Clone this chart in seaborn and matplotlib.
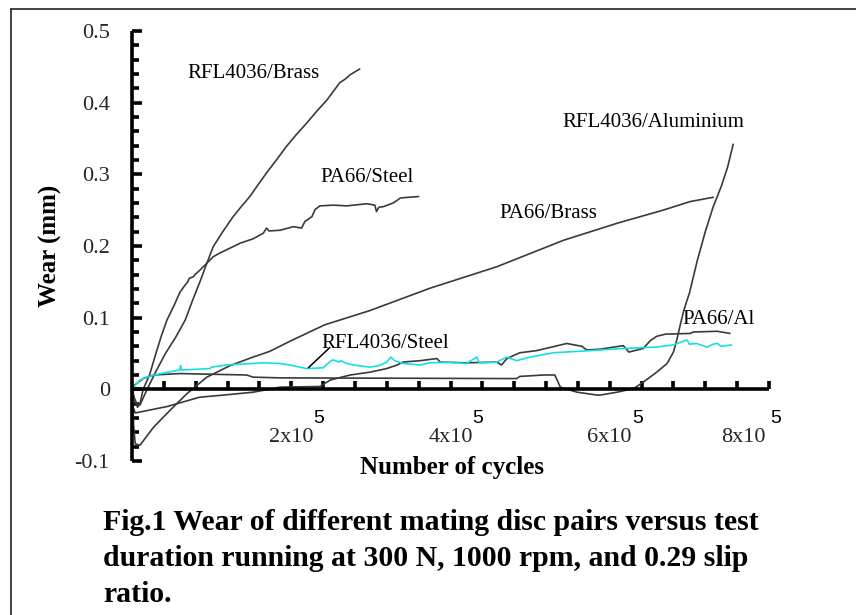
import matplotlib
matplotlib.use("Agg")
import matplotlib.pyplot as plt
import matplotlib.transforms as mtransforms
from matplotlib.lines import Line2D
from matplotlib.ticker import FixedLocator, MultipleLocator
import numpy as np
import pandas as pd
import seaborn as sns

# ---------------- data (x in units of 10^5 cycles, wear in mm) ----------------
rfl_brass_x = [0.0, 0.03, 0.06, 0.10, 0.14, 0.19, 0.30, 0.42, 0.55, 0.67, 0.76, 0.86,
               0.94, 1.02, 1.14, 1.27, 1.38, 1.48, 1.58, 1.69, 1.82, 1.94, 2.06, 2.19,
               2.32, 2.45, 2.53, 2.61, 2.68, 2.74, 2.80, 2.86]
rfl_brass_y = [0.0, -0.012, -0.02, -0.022, -0.012, 0.0, 0.025, 0.05, 0.073, 0.097, 0.124, 0.152,
               0.176, 0.199, 0.220, 0.241, 0.256, 0.269, 0.285, 0.302, 0.321, 0.339, 0.355, 0.371,
               0.388, 0.404, 0.416, 0.428, 0.433, 0.439, 0.443, 0.447]

pa66_steel_x = [0.0, 0.03, 0.07, 0.10, 0.14, 0.22, 0.30, 0.37, 0.44, 0.52, 0.60, 0.65, 0.70,
                0.72, 0.77, 0.79, 0.85, 0.94, 1.02, 1.10, 1.23, 1.36, 1.52, 1.65, 1.69, 1.72,
                1.86, 2.03, 2.13, 2.17, 2.26, 2.30, 2.36, 2.53, 2.70, 2.95, 3.05, 3.07, 3.10,
                3.16, 3.28, 3.32, 3.37, 3.48, 3.60]
pa66_steel_y = [0.0, -0.015, -0.025, -0.02, 0.0, 0.02, 0.05, 0.075, 0.097, 0.115, 0.135, 0.143, 0.150,
                0.155, 0.157, 0.160, 0.166, 0.176, 0.185, 0.190, 0.197, 0.204, 0.210, 0.218, 0.225, 0.221,
                0.222, 0.227, 0.225, 0.234, 0.241, 0.251, 0.256, 0.257, 0.256, 0.259, 0.257, 0.248, 0.254,
                0.255, 0.260, 0.263, 0.267, 0.268, 0.269]

pa66_brass_x = [0.0, 0.02, 0.04, 0.10, 0.27, 0.48, 0.69, 0.94, 1.23, 1.52, 1.73, 2.00, 2.42,
                2.99, 3.74, 4.58, 5.42, 6.10, 6.67, 7.01, 7.30]
pa66_brass_y = [0.0, -0.05, -0.076, -0.078, -0.053, -0.029, -0.006, 0.017, 0.033, 0.045, 0.053, 0.068, 0.090,
                0.110, 0.141, 0.171, 0.208, 0.232, 0.250, 0.262, 0.268]

pa66_al_x = [0.0, 0.04, 0.44, 0.85, 1.15, 1.52, 1.86, 2.36, 2.49, 2.74, 2.99, 3.20, 3.33, 3.40,
             3.62, 3.83, 3.87, 4.20, 4.58, 4.64, 4.71, 4.87, 5.08, 5.31, 5.46, 5.65, 5.71, 5.88,
             6.17, 6.24, 6.42, 6.51, 6.59, 6.70, 7.01, 7.05, 7.35, 7.51]
pa66_al_y = [-0.02, -0.033, -0.024, -0.011, -0.008, -0.004, 0.003, 0.004, 0.013, 0.020, 0.024, 0.029, 0.034, 0.038,
             0.040, 0.043, 0.038, 0.037, 0.038, 0.034, 0.043, 0.051, 0.054, 0.060, 0.064, 0.060, 0.055, 0.056,
             0.061, 0.052, 0.057, 0.068, 0.074, 0.077, 0.078, 0.080, 0.081, 0.078]

rfl_al_x = [0.0, 0.14, 0.27, 0.60, 1.44, 1.52, 1.86, 4.83, 4.87, 5.17, 5.31, 5.38, 5.50, 5.59,
            5.84, 5.88, 6.09, 6.30, 6.42, 6.59, 6.72, 6.80, 6.84, 6.89, 6.93, 6.97, 7.00, 7.10,
            7.20, 7.30, 7.40, 7.48, 7.55]
rfl_al_y = [0.003, 0.015, 0.020, 0.022, 0.020, 0.017, 0.016, 0.015, 0.018, 0.020, 0.020, 0.003, -0.001, -0.004,
            -0.008, -0.008, -0.004, 0.001, 0.010, 0.024, 0.036, 0.052, 0.068, 0.092, 0.110, 0.124, 0.134, 0.180,
            0.220, 0.255, 0.283, 0.310, 0.342]

rfl_steel_x = [0.0, 0.10, 0.27, 0.60, 0.61, 0.62, 0.98, 1.00, 1.19, 1.65, 1.86, 1.98, 2.19, 2.40,
               2.50, 2.53, 2.60, 2.62, 2.70, 2.78, 2.99, 3.10, 3.20, 3.25, 3.30, 3.41, 3.62, 3.74,
               4.00, 4.20, 4.33, 4.36, 4.58, 4.71, 4.83, 5.00, 5.29, 5.75, 6.17, 6.59, 6.80, 6.97,
               7.00, 7.09, 7.22, 7.30, 7.35, 7.40, 7.53]
rfl_steel_y = [0.0, 0.013, 0.020, 0.027, 0.033, 0.027, 0.029, 0.031, 0.034, 0.037, 0.036, 0.034, 0.029, 0.030,
               0.040, 0.041, 0.038, 0.040, 0.036, 0.034, 0.031, 0.033, 0.038, 0.045, 0.040, 0.036, 0.034, 0.037,
               0.038, 0.036, 0.045, 0.037, 0.038, 0.045, 0.040, 0.045, 0.051, 0.054, 0.057, 0.059, 0.062, 0.069,
               0.063, 0.064, 0.059, 0.063, 0.064, 0.060, 0.062]

series_names = ["RFL4036/Brass", "PA66/Steel", "PA66/Brass", "PA66/Al",
                "RFL4036/Aluminium", "RFL4036/Steel"]
x_tick_values = [2, 4, 6, 8]
x_tick_labels = ["2x10", "4x10", "6x10", "8x10"]
y_tick_values = [-0.1, 0.0, 0.1, 0.2, 0.3, 0.4, 0.5]
y_tick_labels = ["-0.1", "0", "0.1", "0.2", "0.3", "0.4", "0.5"]
x_label = "Number of cycles"
y_label = "Wear (mm)"
caption = ("Fig.1 Wear of different mating disc pairs versus test\n"
           "duration running at 300 N, 1000 rpm, and 0.29 slip\n"
           "ratio.")

# ---------------- figure ----------------
sns.set_theme(style="white")
plt.rcParams["font.family"] = ["Liberation Serif", "DejaVu Serif"]

W, H = 856, 615
fig = plt.figure(figsize=(W / 100, H / 100), dpi=100)
fig.patch.set_facecolor("white")
ax = fig.add_axes([132 / W, 1 - 461 / H, 637 / W, 430 / H])
ax.set_facecolor("white")

xs_all = [rfl_brass_x, pa66_steel_x, pa66_brass_x, pa66_al_x, rfl_al_x, rfl_steel_x]
ys_all = [rfl_brass_y, pa66_steel_y, pa66_brass_y, pa66_al_y, rfl_al_y, rfl_steel_y]
colors = ["#3a3a3a", "#3a3a3a", "#3a3a3a", "#3a3a3a", "#3a3a3a", "#14e0e0"]

for name, xs, ys, c in zip(series_names, xs_all, ys_all, colors):
    df = pd.DataFrame({"cycles": xs, "wear": ys})
    sns.lineplot(data=df, x="cycles", y="wear", ax=ax, color=c, linewidth=1.2,
                 sort=False, estimator=None, legend=False)

ax.set_xlim(0, 8)
ax.set_ylim(-0.1, 0.5)

for s in ["top", "right"]:
    ax.spines[s].set_visible(False)
ax.spines["bottom"].set_position(("data", 0))
for s in ["left", "bottom"]:
    ax.spines[s].set_color("black")
    ax.spines[s].set_linewidth(2.6)
    ax.spines[s].set_capstyle("butt")

ax.set_xticks(x_tick_values)
ax.set_xticklabels(x_tick_labels)
ax.xaxis.set_minor_locator(FixedLocator(np.arange(0.4, 8.01, 0.4)))
ax.set_yticks(y_tick_values)
ax.set_yticklabels(y_tick_labels)
ax.yaxis.set_minor_locator(MultipleLocator(0.02))

ax.tick_params(axis="x", which="both", direction="in", length=5.5, width=2.6,
               color="black", labelsize=16, pad=28, bottom=True, top=False)
ax.tick_params(axis="y", which="major", direction="in", length=7, width=2.6,
               color="black", labelsize=16, pad=16, left=True, right=False)
ax.tick_params(axis="y", which="minor", direction="in", length=5, width=2.6,
               color="black", left=True, right=False)

# last x tick label shifted to stay inside
last = ax.get_xticklabels()[-1]
last.set_horizontalalignment("right")
last.set_transform(last.get_transform() +
                   mtransforms.ScaledTranslation(-3 / 100, 0, fig.dpi_scale_trans))

# superscript exponents
for v, dx in zip(x_tick_values, [16, 16, 16, 1]):
    ax.annotate("5", xy=(v, 0), xycoords="data", xytext=(dx, -24.5),
                textcoords="offset points", ha="left", va="baseline",
                fontsize=14, family=["Liberation Sans", "DejaVu Sans"], color="black")

ax.set_xlabel(x_label, fontsize=18, fontweight="bold", color="black")
ax.xaxis.set_label_coords(0.502, -0.014)
ax.xaxis.label.set_va("center")
ax.set_ylabel(y_label, fontsize=18, fontweight="bold", color="black")
ax.yaxis.set_label_coords((50 - 132) / 637, 0.5)
ax.yaxis.label.set_va("center")

# curve labels
lab_kw = dict(fontsize=15, color="black", ha="left", va="center")
ax.text(0.69, 0.440, "RFL4036/Brass", **lab_kw)
ax.text(2.37, 0.296, "PA66/Steel", **lab_kw)
ax.text(5.41, 0.373, "RFL4036/Aluminium", **lab_kw)
ax.text(4.61, 0.246, "PA66/Brass", **lab_kw)
ax.text(6.91, 0.098, "PA66/Al", **lab_kw)
ax.text(2.38, 0.064, "RFL4036/Steel", **lab_kw)
ax.annotate("", xy=(2.19, 0.0275), xytext=(2.51, 0.061),
            arrowprops=dict(arrowstyle="-", color="black", lw=1.1))

# caption
fig.text(103 / W, 1 - 509 / H, caption, fontsize=21.4, fontweight="bold",
         ha="left", va="top", linespacing=1.44, color="black")

# frame lines (left & top)
fig.add_artist(Line2D([11 / W, 11 / W], [0, 1 - 9 / H], transform=fig.transFigure,
                      color="#222222", lw=1.2))
fig.add_artist(Line2D([11 / W, 1], [1 - 9 / H, 1 - 9 / H], transform=fig.transFigure,
                      color="#222222", lw=1.2))

fig.savefig("out.png", dpi=100, facecolor="white")
